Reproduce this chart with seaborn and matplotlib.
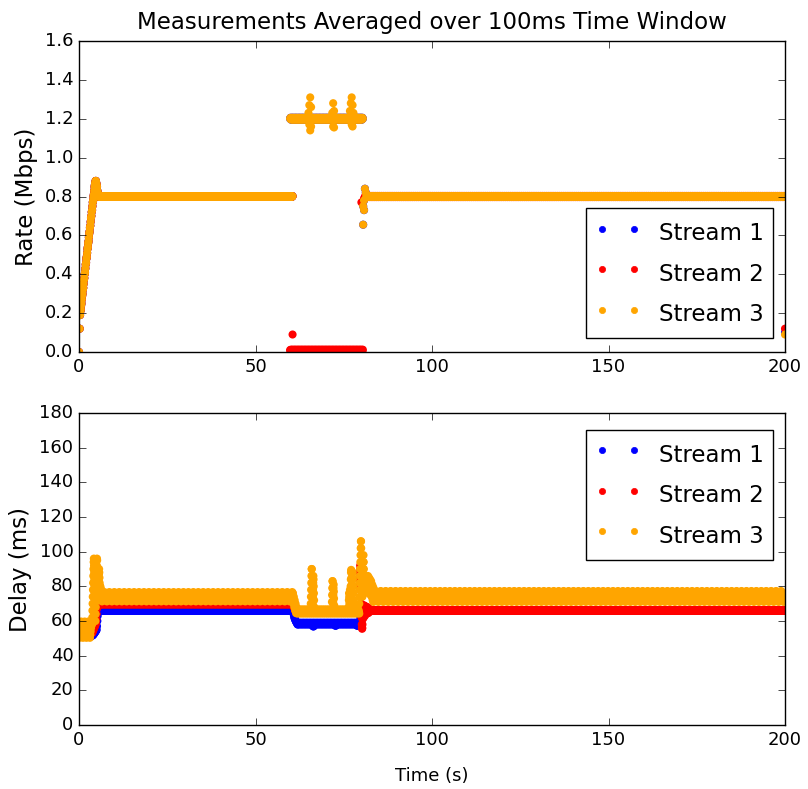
import numpy as np
import pandas as pd
import matplotlib
matplotlib.use("Agg")
import matplotlib.pyplot as plt
import seaborn as sns
from matplotlib.lines import Line2D

STEP = 0.1          # 100 ms measurement window
streams = ["Stream 1", "Stream 2", "Stream 3"]
colors = ["blue", "red", "orange"]

# ======================= Rate (Mbps) =======================
# start-up: first samples, then the ramp (every 100 ms from t = 0.3 s)
rate_first_t = [0.0, 0.2]
rate_first = [0.00, 0.12]
ramp_t0 = 0.3
ramp_rate = [0.19, 0.21, 0.22, 0.24, 0.25, 0.27, 0.29, 0.30, 0.32, 0.33,
             0.35, 0.37, 0.38, 0.40, 0.41, 0.43, 0.45, 0.46, 0.48, 0.49,
             0.51, 0.53, 0.54, 0.56, 0.57, 0.59, 0.61, 0.62, 0.64, 0.65,
             0.67, 0.69, 0.70, 0.72, 0.73, 0.75, 0.77, 0.78, 0.80, 0.81,
             0.83, 0.85, 0.86, 0.87, 0.88, 0.88, 0.87, 0.86, 0.85, 0.83,
             0.82, 0.81, 0.80]

rate_phase_a = (5.6, 60.6)     # all streams share the link
rate_phase_b = (59.8, 80.4)    # stream 2 starved
rate_phase_c = (81.4, 200.0)   # back to fair share

rate1_a = [0.80, 0.802, 0.80, 0.798]
rate1_b = [1.20, 1.205, 1.20, 1.195]
rate1_c = [0.80, 0.802, 0.80, 0.798]
rate2_a = [0.80, 0.802, 0.80, 0.798]
rate2_b = [0.010, 0.006, 0.012, 0.008]
rate2_c = [0.80, 0.803, 0.80, 0.80, 0.797, 0.80]
rate3_a = [0.80, 0.802, 0.80, 0.798]
rate3_b = [1.20, 1.205, 1.20, 1.195]
rate3_c = [0.80, 0.802, 0.80, 0.798]

rate1_ev_t = [80.5, 80.5, 80.75, 80.75, 81.0, 81.25, 200.0]
rate1_ev = [0.655, 0.75, 0.73, 0.78, 0.84, 0.82, 0.10]
rate2_ev_t = [60.5, 80.0, 80.75, 81.0, 81.25, 200.0]
rate2_ev = [0.09, 0.77, 0.79, 0.80, 0.80, 0.12]
rate3_ev_t = [65.0, 65.25, 65.5, 65.75, 65.25, 65.5, 65.75,
              71.75, 72.0, 72.25, 72.0, 72.25,
              76.75, 77.0, 77.25, 77.5, 77.75, 77.25, 77.5,
              80.5, 80.5, 80.75, 80.75, 81.0, 81.25, 200.0]
rate3_ev = [1.23, 1.27, 1.31, 1.26, 1.17, 1.14, 1.16,
            1.23, 1.28, 1.24, 1.16, 1.155,
            1.24, 1.28, 1.31, 1.27, 1.23, 1.17, 1.16,
            0.655, 0.75, 0.73, 0.78, 0.84, 0.82, 0.09]

# ======================= Delay (ms) =======================
delay_phase_0 = (0.1, 3.7)
delay_phase_a = (6.5, 60.6)
delay_phase_b = (62.0, 79.4)
delay_phase_c1 = (80.4, 200.05)   # stream 1
delay_phase_c2 = (83.0, 200.05)   # stream 2
delay_phase_c3 = (83.4, 200.05)   # stream 3

delay1_0 = [52, 53, 54, 55, 56, 55, 54, 53]
delay2_0 = [53, 54, 55, 56, 57, 56, 55, 54]
delay3_0 = [50.3, 52, 54, 56, 58, 59.7, 58, 56, 54, 52]
delay1_a = [65.8, 65.9, 66.0, 65.9]
delay2_a = [69.6, 69.7, 69.8, 69.7]
delay3_a = [71.3, 72.1, 72.9, 73.7, 74.5, 75.3, 76.1, 76.7, 76.0, 75.2, 74.4, 73.6, 72.8, 72.0]
delay1_b = [58.0, 58.5, 59.0, 58.5]
delay2_b = [65.0, 65.5]
delay3_b = [64.3, 65.0, 65.8, 66.7, 66.0, 65.2]
delay1_c = [66.0, 66.2]
delay2_c = [65.8, 66.0, 66.3, 66.0]
delay3_c = [71.0, 72.0, 73.0, 74.0, 75.0, 76.0, 77.0, 77.3, 76.5, 75.5, 74.5, 73.5, 72.5, 71.5]

# transient episodes: (start time, dt, values)
d1_startup = (3.7, 0.1, [51.5, 51.6, 51.8, 52, 52.2, 52.5, 52.8, 53.1, 53.4, 53.7, 54, 54.3,
                         54.6, 55, 57, 60, 63, 66, 68, 69, 68.5, 68, 67.5, 67, 66.6, 66.3,
                         66.1, 66])
d2_startup = (3.7, 0.1, [53, 53.5, 54, 54.5, 55, 55.5, 56, 56.5, 57, 57.5, 58, 59, 61, 64,
                         67, 70, 71, 71, 70.5, 70.2, 70, 69.8, 69.7, 69.6, 69.6, 69.6,
                         69.6, 69.6])
d3_startup = (3.7, 0.05, [58, 62, 66, 70, 74, 78, 82, 86, 90, 94, 96, 92, 88, 84, 80, 76,
                          72, 68, 64, 60, 64, 68, 72, 76, 80, 84, 88, 92, 96, 95, 91, 87,
                          83, 79, 75, 72, 75, 79, 83, 87, 90, 88, 85, 82, 80, 78, 76,
                          80, 79, 78.5, 78, 77.5, 77])
d1_drop = (60.6, 0.1, [66, 65, 64, 63, 62, 61.5, 61, 60.5, 60, 59.5, 59.5, 59, 58.5, 58])
d2_drop = (60.6, 0.1, [69.5, 69, 68.5, 68, 67.5, 67, 66.5, 66, 65.5, 65, 65, 65, 65, 65])
d3_drop = (60.6, 0.05, [76, 74, 72, 70, 72, 74, 72, 70, 68, 70, 72, 70, 68, 66, 68, 70, 68,
                        66, 64.5, 66, 68, 66, 64.5, 65, 66, 67, 66, 65])
d1_dips = [(66.2, 0.1, [57.5, 57, 56.8, 57, 57.3, 57.6]),
           (72.5, 0.1, [57.8, 57.4, 57.2, 57.5, 57.8]),
           (78.6, 0.1, [58, 57.6, 57.3, 57.2, 57.5, 57.8, 58, 58.2, 58.5, 59, 60, 62, 64, 66])]
d2_jump = (79.5, 0.05, [80, 84, 88, 92, 90, 86, 82, 78, 74, 70, 66, 62, 58, 56, 55.5, 56,
                        58, 61, 64, 67, 69, 67, 64, 62, 64, 67, 69, 68, 66, 64, 63, 65,
                        67, 68.5, 67, 65, 64, 65, 66.5, 68, 67, 65.5, 64.5, 65.5, 66.5,
                        68, 67, 65.5, 64.5, 65.5, 66.5, 67.5, 66.5, 65.5, 65, 65.8, 66.3,
                        66, 65.8, 66, 66.3, 66, 65.8, 66, 66.3, 66, 65.8, 66, 66.3, 66])
d3_spikes = [(65.6, 0.05, [66, 70, 74, 78, 82, 86, 90, 90, 86, 82, 78, 74, 70, 74, 78, 82,
                           86, 84, 80, 76, 72, 68]),
             (71.6, 0.05, [67, 71, 75, 79, 83, 83, 79, 75, 71, 75, 79, 81, 77, 73, 69]),
             (76.4, 0.05, [68, 72, 76, 74, 70, 73, 76, 78, 76, 72, 76, 80, 84, 88, 89.5,
                           89, 85, 81, 77, 73, 77, 81, 85, 88, 84, 80, 76, 72, 69]),
             (79.4, 0.05, [70, 74, 78, 82, 86, 90, 94, 98, 102, 106, 106, 102, 98, 94, 90,
                           86, 82, 78, 74, 78, 82, 86, 90, 94, 98, 94, 90, 86, 82, 78, 76,
                           79, 82, 85, 86, 84, 82, 80, 83, 86, 84, 81, 79, 82, 84, 81, 79,
                           77, 84, 86, 83, 80, 77, 80, 83, 85, 82, 79, 76, 79, 82, 84, 81,
                           78, 75, 78, 81, 83, 80, 77, 74, 77, 80, 81, 78, 75, 72, 75, 78,
                           79.5])]


def phase(bounds, cycle):
    t = np.arange(bounds[0], bounds[1], STEP)
    return t, np.resize(np.asarray(cycle, dtype=float), t.size)


def seq(t0, dt, values):
    v = np.asarray(values, dtype=float)
    return t0 + dt * np.arange(v.size), v


def build(parts, name, label):
    t = np.concatenate([np.asarray(p[0], dtype=float) for p in parts])
    v = np.concatenate([np.asarray(p[1], dtype=float) for p in parts])
    return pd.DataFrame({"time": t, name: v, "stream": label})


ramp = seq(ramp_t0, STEP, ramp_rate)
first = (rate_first_t, rate_first)

rate_df = pd.concat([
    build([first, ramp, phase(rate_phase_a, rate1_a), phase(rate_phase_b, rate1_b),
           phase(rate_phase_c, rate1_c), (rate1_ev_t, rate1_ev)], "rate", streams[0]),
    build([first, ramp, phase(rate_phase_a, rate2_a), phase(rate_phase_b, rate2_b),
           phase(rate_phase_c, rate2_c), (rate2_ev_t, rate2_ev)], "rate", streams[1]),
    build([first, ramp, phase(rate_phase_a, rate3_a), phase(rate_phase_b, rate3_b),
           phase(rate_phase_c, rate3_c), (rate3_ev_t, rate3_ev)], "rate", streams[2]),
], ignore_index=True)

delay_df = pd.concat([
    build([phase(delay_phase_0, delay1_0), seq(*d1_startup), phase(delay_phase_a, delay1_a),
           seq(*d1_drop), phase(delay_phase_b, delay1_b)] + [seq(*d) for d in d1_dips] +
          [phase(delay_phase_c1, delay1_c)], "delay", streams[0]),
    build([phase(delay_phase_0, delay2_0), seq(*d2_startup), phase(delay_phase_a, delay2_a),
           seq(*d2_drop), phase(delay_phase_b, delay2_b), seq(*d2_jump),
           phase(delay_phase_c2, delay2_c)], "delay", streams[1]),
    build([phase(delay_phase_0, delay3_0), seq(*d3_startup), phase(delay_phase_a, delay3_a),
           seq(*d3_drop), phase(delay_phase_b, delay3_b)] + [seq(*d) for d in d3_spikes] +
          [phase(delay_phase_c3, delay3_c)], "delay", streams[2]),
], ignore_index=True)

# ======================= Figure =======================
plt.style.use("classic")
plt.rcParams.update({
    "font.family": ["DejaVu Sans"],
    "figure.facecolor": "white",
    "savefig.facecolor": "white",
    "xtick.labelsize": 13,
    "ytick.labelsize": 13,
    "xtick.major.size": 5,
    "ytick.major.size": 5,
})

fig = plt.figure(figsize=(8.08, 7.89), dpi=100)
ax1 = fig.add_axes([79 / 808, 1 - 352 / 789, 706 / 808, 311 / 789])
ax2 = fig.add_axes([79 / 808, 1 - 725 / 789, 706 / 808, 312 / 789])

pal = dict(zip(streams, colors))
sns.scatterplot(data=rate_df, x="time", y="rate", hue="stream", hue_order=streams,
                palette=pal, s=34, linewidth=0, legend=False, ax=ax1)
sns.scatterplot(data=delay_df, x="time", y="delay", hue="stream", hue_order=streams,
                palette=pal, s=34, linewidth=0, legend=False, ax=ax2)

rate_ticks = [0.0, 0.2, 0.4, 0.6, 0.8, 1.0, 1.2, 1.4, 1.6]
delay_ticks = [0, 20, 40, 60, 80, 100, 120, 140, 160, 180]
time_ticks = [0, 50, 100, 150, 200]

ax1.set_xlim(0, 200)
ax1.set_ylim(0, 1.6)
ax1.set_xticks(time_ticks)
ax1.set_yticks(rate_ticks)
ax1.set_yticklabels([f"{v:.1f}" for v in rate_ticks])
ax1.set_xlabel("")
ax1.set_ylabel("Rate (Mbps)", fontsize=16.5)
ax1.set_title("Measurements Averaged over 100ms Time Window", fontsize=16.5, pad=9)

ax2.set_xlim(0, 200)
ax2.set_ylim(0, 180)
ax2.set_xticks(time_ticks)
ax2.set_yticks(delay_ticks)
ax2.set_xlabel("Time (s)", fontsize=13, labelpad=13)
ax2.set_ylabel("Delay (ms)", fontsize=16.5)

handles = [Line2D([], [], marker="o", linestyle="", color=c, markeredgecolor=c,
                  markersize=4.5) for c in colors]
for ax, loc, anchor in ((ax1, "lower right", (694 / 706, 14 / 311)),
                        (ax2, "upper right", (694 / 706, 1 - 17 / 312))):
    leg = ax.legend(handles, streams, loc=loc, bbox_to_anchor=anchor, borderaxespad=0,
                    numpoints=2, fontsize=16.5, fancybox=False, framealpha=1.0,
                    handlelength=2.0, handleheight=1.65, borderpad=0.4,
                    handletextpad=0.8, labelspacing=0.45)
    leg.get_frame().set_edgecolor("black")
    leg.get_frame().set_linewidth(1.0)

fig.savefig("out.png", dpi=100)
